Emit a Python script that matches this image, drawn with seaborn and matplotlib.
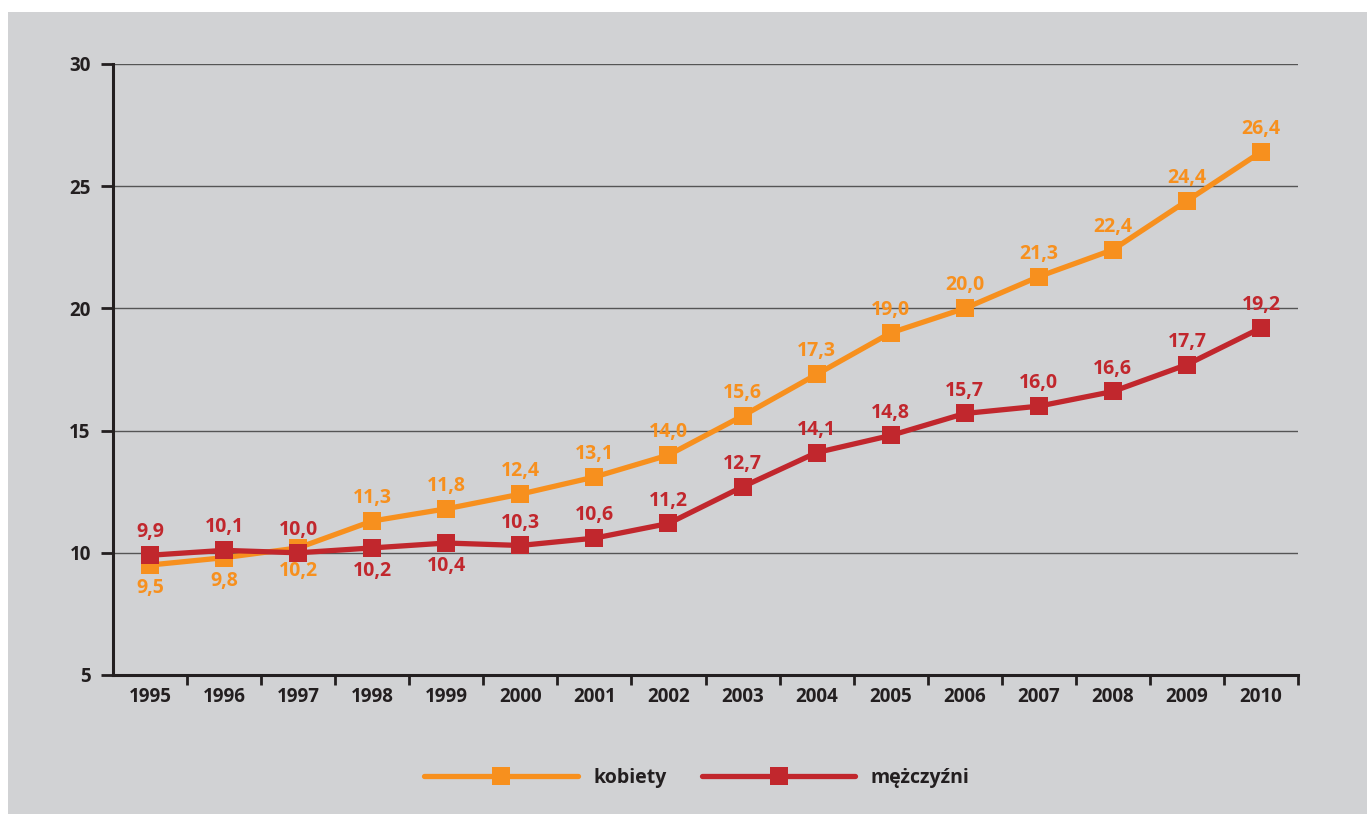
import matplotlib
matplotlib.use("Agg")
import matplotlib.pyplot as plt
import seaborn as sns
import pandas as pd
from matplotlib.patches import Rectangle
from matplotlib.lines import Line2D

years = ["1995", "1996", "1997", "1998", "1999", "2000", "2001", "2002",
         "2003", "2004", "2005", "2006", "2007", "2008", "2009", "2010"]
kobiety = [9.5, 9.8, 10.2, 11.3, 11.8, 12.4, 13.1, 14.0, 15.6, 17.3, 19.0, 20.0, 21.3, 22.4, 24.4, 26.4]
mezczyzni = [9.9, 10.1, 10.0, 10.2, 10.4, 10.3, 10.6, 11.2, 12.7, 14.1, 14.8, 15.7, 16.0, 16.6, 17.7, 19.2]
series_names = ["kobiety", "mężczyźni"]
# label placement: True = above marker
kob_above = [False, False, False] + [True] * 13
mez_above = [True, True, True, False, False] + [True] * 11
yticks = [5, 10, 15, 20, 25, 30]

ORANGE = "#f7901e"
RED = "#c1272d"
BG = "#d1d2d4"
DARK = "#231f20"

sns.set_theme(style="white")
plt.rcParams["font.family"] = ["Open Sans", "DejaVu Sans"]

df = pd.DataFrame({
    "rok": years * 2,
    "wartosc": kobiety + mezczyzni,
    "seria": [series_names[0]] * len(years) + [series_names[1]] * len(years),
})

fig = plt.figure(figsize=(13.67, 8.14), dpi=100, facecolor=BG)
# white margins at top and left
fig.patches.append(Rectangle((0, 1 - 12 / 814), 1, 12 / 814, transform=fig.transFigure,
                             facecolor="white", edgecolor="none"))
fig.patches.append(Rectangle((0, 0), 8 / 1367, 1, transform=fig.transFigure,
                             facecolor="white", edgecolor="none"))
ax = fig.add_axes([113 / 1367, 1 - 675 / 814, (1298 - 113) / 1367, (675 - 64) / 814])
ax.set_facecolor(BG)

sns.lineplot(data=df, x="rok", y="wartosc", hue="seria",
             palette=[ORANGE, RED], hue_order=series_names,
             marker="s", markersize=12.5, markeredgewidth=0,
             linewidth=3.8, legend=False, ax=ax, sort=False, zorder=3)

ax.set_xlim(-0.5, len(years) - 0.5)
ax.set_ylim(5, 30)
ax.set_yticks(yticks)
ax.set_yticklabels([str(v) for v in yticks])
ax.set_xlabel("")
ax.set_ylabel("")

for v in yticks[1:]:
    ax.axhline(v, color="#555555", linewidth=1.0, zorder=1)

ax.set_xticks(range(len(years)))
ax.set_xticklabels(years)
ax.tick_params(axis="x", length=0, pad=9, labelsize=13.5, labelcolor=DARK)
for lbl in ax.get_xticklabels():
    lbl.set_fontweight("bold")
ax.set_xticks([i + 0.5 for i in range(len(years))], minor=True)
ax.tick_params(axis="x", which="minor", length=7, width=2, color=DARK, direction="out", bottom=True)
ax.tick_params(axis="y", length=9, width=2, color=DARK, direction="out", left=True,
               labelsize=13.5, labelcolor=DARK, pad=7)
for lbl in ax.get_yticklabels():
    lbl.set_fontweight("bold")

for s in ["top", "right"]:
    ax.spines[s].set_visible(False)
for s in ["left", "bottom"]:
    ax.spines[s].set_color(DARK)
    ax.spines[s].set_linewidth(2.2)
    ax.spines[s].set_zorder(4)

def fmt(v):
    return f"{v:.1f}".replace(".", ",")

for vals, above, col in [(kobiety, kob_above, ORANGE), (mezczyzni, mez_above, RED)]:
    for i, (v, a) in enumerate(zip(vals, above)):
        ax.annotate(fmt(v), (i, v), xytext=(0, 16.5 if a else -16.5), textcoords="offset points",
                    ha="center", va="center", color=col, fontsize=14, fontweight="bold", zorder=5)

handles = [Line2D([], [], color=ORANGE, lw=3.8, marker="s", markersize=12.5, markeredgewidth=0, solid_capstyle="round"),
           Line2D([], [], color=RED, lw=3.8, marker="s", markersize=12.5, markeredgewidth=0, solid_capstyle="round")]
leg = fig.legend(handles, series_names, loc="center", bbox_to_anchor=(697 / 1367, 1 - 778 / 814),
                 ncol=2, frameon=False, handlelength=7.9, handletextpad=0.8, columnspacing=1.8,
                 markerscale=1.0, prop={"size": 14, "weight": "bold"})
for t in leg.get_texts():
    t.set_color(DARK)

fig.savefig("out.png", dpi=100, facecolor=BG)
